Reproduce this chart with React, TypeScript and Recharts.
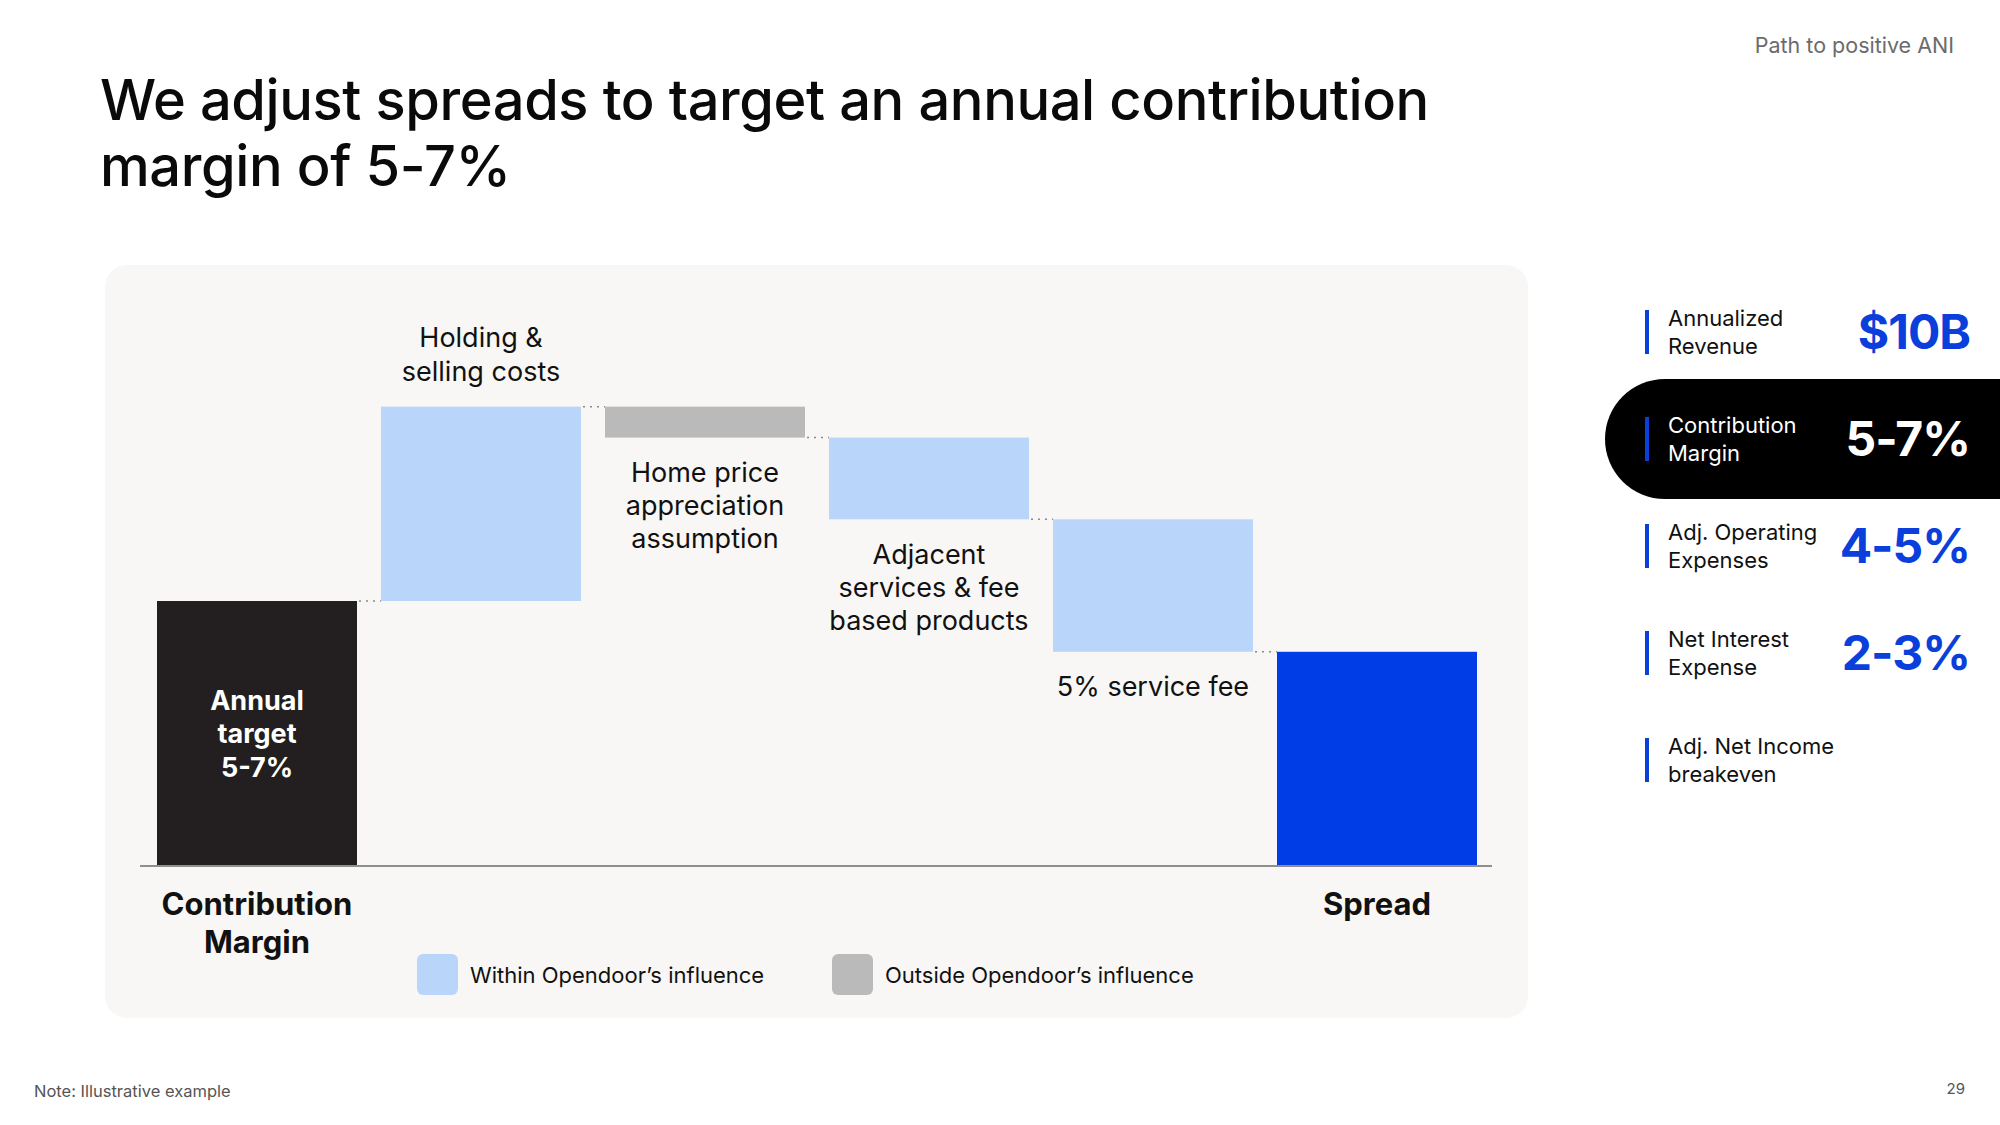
import React from "react";
import { BarChart, Bar, XAxis, YAxis, Legend } from "recharts";

// waterfall steps (illustrative units, first and last are totals)
const categories = [
  "Contribution Margin",
  "Holding & selling costs",
  "Home price appreciation assumption",
  "Adjacent services & fee based products",
  "5% service fee",
  "Spread",
];
const steps = [6, 4.4, -0.7, -1.85, -3.0, 4.85];
const isTotal = [true, false, false, false, false, true];
const kinds = ["target", "within", "outside", "within", "within", "spread"];

const barNotes = [
  ["Annual", "target", "5-7%"],
  ["Holding &", "selling costs"],
  ["Home price", "appreciation", "assumption"],
  ["Adjacent", "services & fee", "based products"],
  ["5% service fee"],
  [],
];
const axisNotes = [["Contribution", "Margin"], [], [], [], [], ["Spread"]];

const legendItems = [
  { label: "Within Opendoor’s influence", kind: "within" },
  { label: "Outside Opendoor’s influence", kind: "outside" },
];

const kpiLabels = [
  ["Annualized", "Revenue"],
  ["Contribution", "Margin"],
  ["Adj. Operating", "Expenses"],
  ["Net Interest", "Expense"],
  ["Adj. Net Income", "breakeven"],
];
const kpiValues = ["$10B", "5-7%", "4-5%", "2-3%", ""];
const kpiActive = 1;

const COLORS: Record<string, string> = {
  target: "#231f20",
  within: "#b9d6fa",
  outside: "#bababa",
  spread: "#003de6",
};
const ACCENT = "#0a3fdc";
const FONT = "Inter, 'Noto Sans', sans-serif";
const BAR_GAP = 24;

// stacked rows: invisible base + visible part
const rows = (() => {
  let running = 0;
  return categories.map((name, i) => {
    const step = steps[i];
    let base = 0;
    let value = 0;
    if (isTotal[i]) {
      base = 0;
      value = step;
      running = step;
    } else if (step >= 0) {
      base = running;
      value = step;
      running += step;
    } else {
      running += step;
      base = running;
      value = -step;
    }
    return { name, base, value, step, total: isTotal[i], kind: kinds[i] };
  });
})();

function WaterfallBar(props: any) {
  const { x, y, width, height, payload, index } = props;
  const cx = x + width / 2;
  const last = index === rows.length - 1;
  const levelY = payload.total || payload.step >= 0 ? y : y + height;
  const notes = barNotes[index] || [];

  let noteEls: React.ReactNode = null;
  if (payload.total) {
    const mid = y + height / 2;
    noteEls = notes.map((t, k) => (
      <text
        key={k}
        x={cx}
        y={mid + (k - (notes.length - 1) / 2) * 33.5}
        textAnchor="middle"
        dominantBaseline="central"
        fontSize={27}
        fontWeight={700}
        fill="#ffffff"
      >
        {t}
      </text>
    ));
  } else if (payload.step >= 0) {
    noteEls = notes.map((t, k) => (
      <text
        key={k}
        x={cx}
        y={y - 35 - (notes.length - 1 - k) * 34}
        textAnchor="middle"
        dominantBaseline="central"
        fontSize={27}
        fill="#111111"
      >
        {t}
      </text>
    ));
  } else {
    noteEls = notes.map((t, k) => (
      <text
        key={k}
        x={cx}
        y={y + height + 35 + k * 33}
        textAnchor="middle"
        dominantBaseline="central"
        fontSize={27}
        fill="#111111"
      >
        {t}
      </text>
    ));
  }

  return (
    <g>
      <rect x={x} y={y} width={width} height={height} fill={COLORS[payload.kind]} />
      {!last && (
        <line
          x1={x + width + 2}
          x2={x + width + BAR_GAP}
          y1={levelY}
          y2={levelY}
          stroke="#8a8a8a"
          strokeWidth={1.5}
          strokeDasharray="2 5"
        />
      )}
      {noteEls}
    </g>
  );
}

function AxisTick(props: any) {
  const { x, y, index } = props;
  const lines = axisNotes[index] || [];
  return (
    <g>
      {lines.map((t, k) => (
        <text
          key={k}
          x={x}
          y={y + 37 + k * 38}
          textAnchor="middle"
          dominantBaseline="central"
          fontSize={31}
          fontWeight={700}
          fill="#111111"
        >
          {t}
        </text>
      ))}
    </g>
  );
}

function LegendContent() {
  return (
    <div style={{ display: "flex", alignItems: "center", fontFamily: FONT }}>
      {legendItems.map((it, i) => (
        <div
          key={i}
          style={{ display: "flex", alignItems: "center", width: i === 0 ? 415 : "auto" }}
        >
          <div
            style={{
              width: 41,
              height: 41,
              borderRadius: 6,
              background: COLORS[it.kind],
              marginRight: 12,
            }}
          />
          <span style={{ fontSize: 22, color: "#111" }}>{it.label}</span>
        </div>
      ))}
    </div>
  );
}

export default function App() {
  return (
    <div
      style={{
        position: "absolute",
        left: 0,
        top: 0,
        width: 2000,
        height: 1125,
        background: "#ffffff",
        fontFamily: FONT,
        color: "#111",
        overflow: "hidden",
      }}
    >
      <div
        style={{
          position: "absolute",
          right: 46,
          top: 32,
          fontSize: 21.5,
          color: "#6b6b6b",
        }}
      >
        Path to positive ANI
      </div>

      <div
        style={{
          position: "absolute",
          left: 100,
          top: 67,
          fontSize: 56,
          lineHeight: "66px",
          fontWeight: 500,
          letterSpacing: -0.4,
          color: "#0a0a0a",
        }}
      >
        We adjust spreads to target an annual contribution
        <br />
        margin of 5-7%
      </div>

      <div
        style={{
          position: "absolute",
          left: 105,
          top: 265,
          width: 1423,
          height: 753,
          background: "#f8f7f5",
          borderRadius: 22,
        }}
      >
        <BarChart
          width={1423}
          height={753}
          data={rows}
          margin={{ top: 71, right: 36, bottom: 0, left: 35 }}
          barSize={200}
        >
          <XAxis
            dataKey="name"
            height={152}
            interval={0}
            tickLine={false}
            tickSize={0}
            tickMargin={0}
            padding={{ left: 5, right: 3 }}
            axisLine={{ stroke: "#8f8f8f", strokeWidth: 2 }}
            tick={(p: any) => <AxisTick {...p} />}
          />
          <YAxis hide domain={[0, 12]} />
          <Bar dataKey="base" stackId="w" fill="transparent" isAnimationActive={false} legendType="none" />
          <Bar
            dataKey="value"
            stackId="w"
            isAnimationActive={false}
            shape={(p: any) => <WaterfallBar {...p} />}
          />
          <Legend
            layout="horizontal"
            verticalAlign="middle"
            align="center"
            wrapperStyle={{ top: 689, left: 312, width: 800, height: 41 }}
            content={() => <LegendContent />}
          />
        </BarChart>
      </div>

      {/* right-hand KPI ladder */}
      <div
        style={{
          position: "absolute",
          left: 1605,
          top: 379,
          width: 395,
          height: 120,
          background: "#000",
          borderRadius: "60px 0 0 60px",
        }}
      />
      {kpiLabels.map((lines, i) => {
        const cy = 332 + i * 107;
        const active = i === kpiActive;
        return (
          <React.Fragment key={i}>
            <div
              style={{
                position: "absolute",
                left: 1645,
                top: cy - 22,
                width: 4,
                height: 44,
                background: ACCENT,
              }}
            />
            <div
              style={{
                position: "absolute",
                left: 1668,
                top: cy - 28,
                fontSize: 22,
                lineHeight: "28px",
                color: active ? "#fff" : "#111",
              }}
            >
              {lines[0]}
              <br />
              {lines[1]}
            </div>
            {kpiValues[i] && (
              <div
                style={{
                  position: "absolute",
                  right: 30,
                  top: cy - 30,
                  fontSize: 48,
                  lineHeight: "60px",
                  fontWeight: 700,
                  letterSpacing: -1,
                  color: active ? "#fff" : ACCENT,
                }}
              >
                {kpiValues[i]}
              </div>
            )}
          </React.Fragment>
        );
      })}

      <div style={{ position: "absolute", left: 34, top: 1081, fontSize: 16.5, color: "#555" }}>
        Note: Illustrative example
      </div>
      <div style={{ position: "absolute", right: 35, top: 1079, fontSize: 15, color: "#555" }}>
        29
      </div>
    </div>
  );
}
